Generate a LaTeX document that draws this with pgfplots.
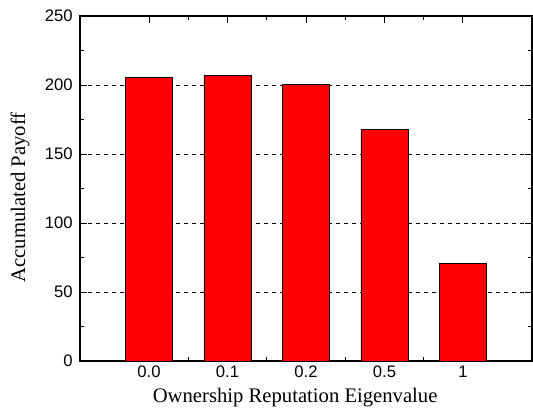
\documentclass[border=0pt]{standalone}
\usepackage{fontspec}
\setmainfont{Liberation Serif}
\newfontfamily\arial{Liberation Sans}
\usepackage{pgfplots}
\pgfplotsset{compat=1.18}
\begin{document}
\begin{tikzpicture}
\useasboundingbox (-60pt,-36.75pt) rectangle (339.75pt,270.75pt);
\begin{axis}[
  scale only axis,
  width=339pt, height=258.75pt,
  at={(0,0)}, anchor=south west,
  xmin=0.12, xmax=5.88,
  ymin=0, ymax=250,
  xtick={1,2,3,4,5},
  xticklabels={0.0,0.1,0.2,0.5,1},
  ytick={0,50,100,150,200,250},
  minor x tick num=1,
  minor y tick num=1,
  tick align=inside,
  major tick length=5pt,
  minor tick length=3pt,
  tick style={black, line width=0.7pt},
  axis line style={line width=0.8pt},
  ymajorgrids,
  grid style={black, dashed, line width=0.5pt},
  /pgf/number format/assume math mode=true,
  ticklabel style={font=\arial\fontsize{12.5}{14}\selectfont},
  yticklabel style={xshift=-2pt},
  xlabel={Ownership Reputation Eigenvalue},
  ylabel={Accumulated Payoff},
  label style={font=\fontsize{15.5}{18}\selectfont},
  xlabel style={at={(axis description cs:0.476,0)}, anchor=base, yshift=-31.5pt},
  ylabel style={at={(axis description cs:-0.1327,0.474)}, anchor=center},
]
\addplot[ybar, bar width=0.6, fill=red, draw=black, line width=0.6pt] coordinates {
  (1,205.3) (2,207.0) (3,200.3) (4,168.0) (5,70.5)
};
\end{axis}
\end{tikzpicture}
\end{document}
